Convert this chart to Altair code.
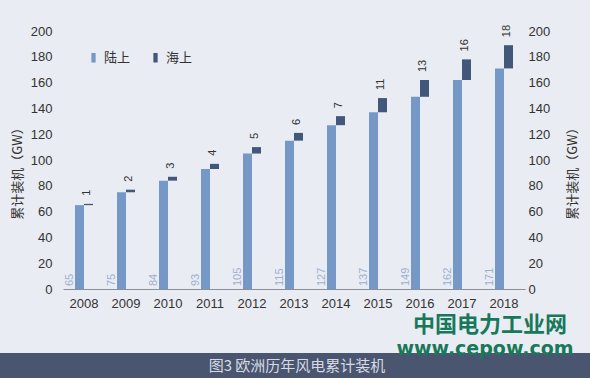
import altair as alt
import pandas as pd

years = ['2008', '2009', '2010', '2011', '2012', '2013', '2014', '2015', '2016', '2017', '2018']
onshore = [65, 75, 84, 93, 105, 115, 127, 137, 149, 162, 171]
offshore = [1, 2, 3, 4, 5, 6, 7, 11, 13, 16, 18]
series = ['陆上', '海上']
colors = ['#7598C6', '#42587A']
axis_title = '累计装机（GW）'
caption = '图3 欧洲历年风电累计装机'
wm1 = '中国电力工业网'
wm2 = 'www.cepow.com'

df = pd.DataFrame({'year': years, 'onshore': onshore, 'offshore': offshore})
df['top'] = df['onshore'] + df['offshore']

FONT = 'Liberation Sans, Noto Sans CJK SC'
CJK = 'Noto Sans CJK SC'

yscale = alt.Scale(domain=[0, 200])
cscale = alt.Scale(domain=series, range=colors)

base = alt.Chart(df).encode(
    x=alt.X('year:N', title=None, sort=years,
            scale=alt.Scale(paddingInner=0, paddingOuter=0),
            axis=alt.Axis(labelAngle=0, ticks=False, domainColor='#8a8f99',
                          labelFontSize=13, labelColor='#333333', labelPadding=8,
                          labelFont=FONT))
)

on_bar = base.transform_calculate(s="'陆上'").mark_bar(width=9, xOffset=-4.5).encode(
    y=alt.Y('onshore:Q', scale=yscale, title=axis_title,
            axis=alt.Axis(orient='left', values=list(range(0, 201, 20)), grid=False,
                          domain=False, ticks=False, labelPadding=11,
                          labelFontSize=13, labelColor='#333333', labelFont=FONT,
                          titleFont=CJK, titleFontSize=13, titleFontWeight='normal',
                          titleColor='#333333', titleAngle=270, titleX=-46, titleY=139,
                          titleAlign='center', titleBaseline='middle')),
    color=alt.Color('s:N', scale=cscale, title=None,
                    legend=alt.Legend(orient='none', legendX=24, legendY=20,
                                      direction='horizontal',
                                      symbolType='M-0.45,-1H0.45V1H-0.45Z',
                                      symbolSize=90, symbolStrokeWidth=0,
                                      labelFont=CJK, labelFontSize=13,
                                      labelColor='#333333', labelOffset=4,
                                      columnPadding=18))
)

off_bar = base.transform_calculate(s="'海上'").mark_bar(width=9, xOffset=4.5).encode(
    y=alt.Y('onshore:Q', scale=yscale, title=axis_title,
            axis=alt.Axis(orient='right', values=list(range(0, 201, 20)), grid=False,
                          domain=False, ticks=False, labelPadding=3,
                          labelFontSize=13, labelColor='#333333', labelFont=FONT,
                          titleFont=CJK, titleFontSize=13, titleFontWeight='normal',
                          titleColor='#333333', titleAngle=270, titleX=47, titleY=139,
                          titleAlign='center', titleBaseline='middle')),
    y2='top:Q',
    color=alt.Color('s:N', scale=cscale, legend=None)
)

on_text = base.mark_text(angle=270, align='left', baseline='middle', dx=3,
                         xOffset=-14.5, fontSize=11, font=FONT,
                         color='#9FB0CF').encode(
    y=alt.datum(0, scale=yscale, axis=None),
    text='onshore:Q'
)

off_text = base.mark_text(angle=270, align='left', baseline='middle', dx=8,
                          xOffset=3, fontSize=11, font=FONT,
                          color='#333333').encode(
    y=alt.Y('top:Q', scale=yscale, axis=None),
    text='offshore:Q'
)

cap_df = pd.DataFrame({'t': [caption]})
cap_rect = alt.Chart(cap_df).mark_rect(color='#4A566F').encode(
    x=alt.value(-63), x2=alt.value(527), y=alt.value(322), y2=alt.value(350)
)
cap_text = alt.Chart(cap_df).mark_text(font=CJK, fontSize=15, color='#D6DAE3',
                                       align='center', baseline='middle').encode(
    x=alt.value(234), y=alt.value(335), text='t:N'
)
wm_df = pd.DataFrame({'a': [wm1], 'b': [wm2]})
wm_text1 = alt.Chart(wm_df).mark_text(font=CJK, fontSize=22, fontWeight='bold',
                                      color='#17785A', align='center',
                                      baseline='alphabetic').encode(
    x=alt.value(427), y=alt.value(301), text='a:N'
)
wm_text2 = alt.Chart(wm_df).mark_text(font='DejaVu Sans', fontSize=19, fontWeight='bold',
                                      color='#17785A', align='center',
                                      baseline='alphabetic').encode(
    x=alt.value(422), y=alt.value(324), text='b:N'
)

chart = alt.layer(
    on_bar, off_bar, on_text, off_text, cap_rect, cap_text, wm_text1, wm_text2
).resolve_axis(y='independent').properties(
    width=462, height=258,
    autosize=alt.AutoSizeParams(type='none'),
    padding={'left': 63, 'top': 31, 'right': 65, 'bottom': 89},
    background='#E9ECF2'
).configure_view(stroke=None)

chart.save('out.html', embed_options={'renderer': 'svg', 'actions': False})
